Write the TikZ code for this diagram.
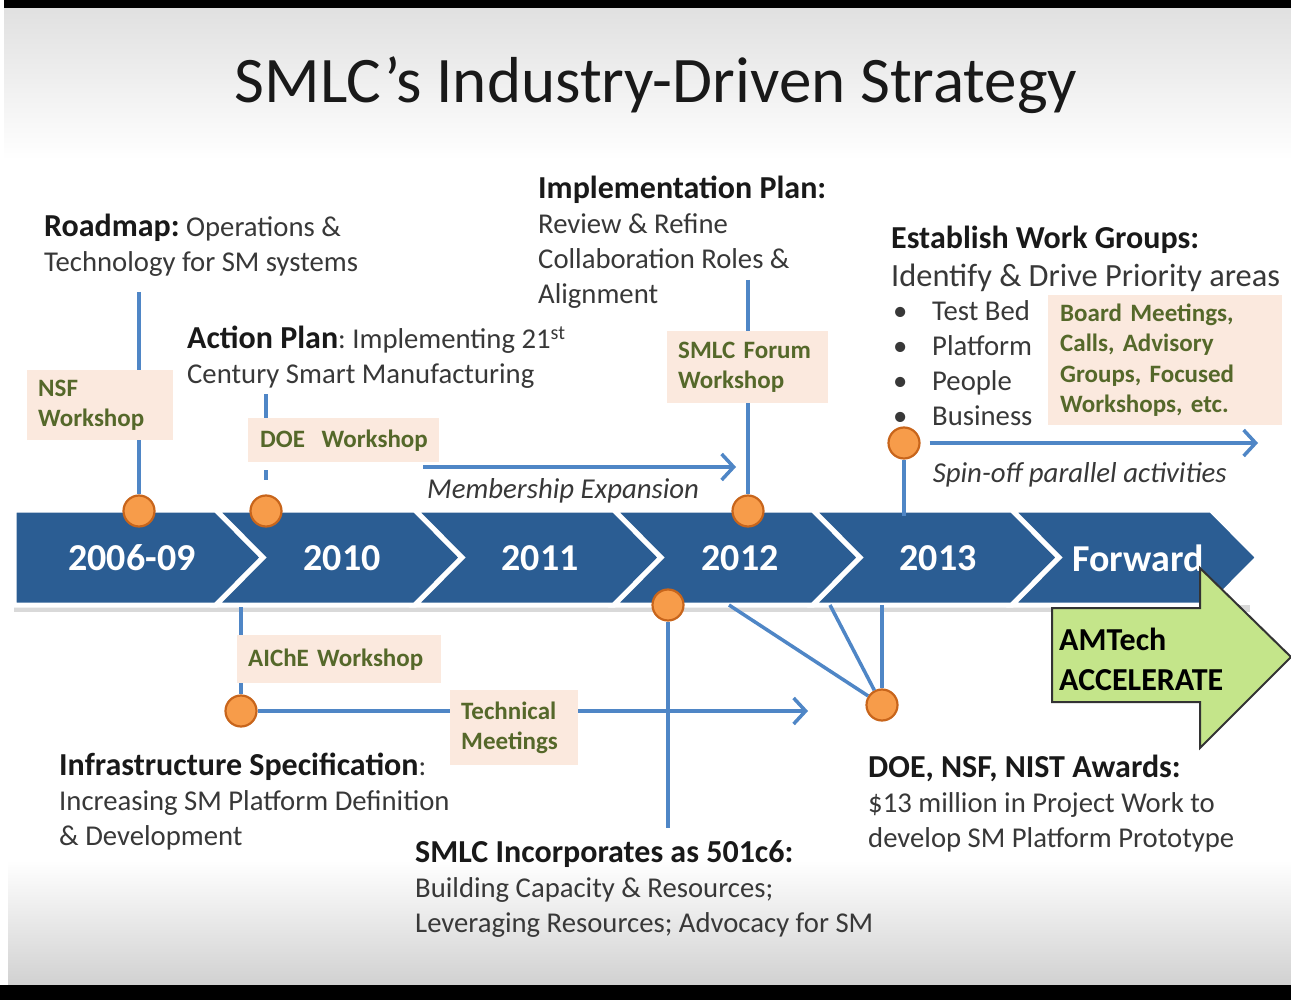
\documentclass[tikz,border=0pt]{standalone}
\usepackage{fontspec}
\setmainfont{Carlito}
\usetikzlibrary{positioning,arrows.meta}

\definecolor{bandblue}{HTML}{2B5D93}
\definecolor{linkblue}{HTML}{4F86C6}
\definecolor{dotfill}{HTML}{F79C4A}
\definecolor{dotedge}{HTML}{C8651B}
\definecolor{peach}{HTML}{FBE9DE}
\definecolor{olive}{HTML}{55682A}
\definecolor{accgreen}{HTML}{C4E58A}
\definecolor{txtgray}{HTML}{383838}

\newcommand{\hdr}[1]{{\fontsize{32}{35}\selectfont\bfseries\color{black!90}#1}}
\newcommand{\bul}{\makebox[39pt][l]{\textbullet}}

\tikzset{
  link/.style={draw=linkblue, line width=3.5pt},
  arrowlink/.style={link, -{Straight Barb[length=12pt,width=26pt]}},
  milestone/.style={circle, fill=dotfill, draw=dotedge, line width=2.2pt, minimum size=31pt, inner sep=0pt},
  meetbox/.style={fill=peach, text=olive, font=\fontsize{25}{30.5}\selectfont\bfseries, inner xsep=11pt, inner ysep=4pt, align=left, anchor=north west},
  body/.style={font=\fontsize{28.7}{35}\selectfont, text=txtgray, align=left, anchor=north west, inner sep=0pt},
  note/.style={font=\fontsize{28.8}{32}\selectfont\itshape, text=txtgray, inner sep=0pt},
  yearlab/.style={font=\fontsize{38}{42}\selectfont\bfseries, text=white},
  bandseg/.style={fill=bandblue, draw=white, line width=5pt, line join=miter},
}

\begin{document}
\frenchspacing
\begin{tikzpicture}[x=1pt,y=-1pt]
  \useasboundingbox (0,0) rectangle (1291,1000);

  % slide background
  \fill[white] (0,0) rectangle (1291,1000);
  \shade[top color=black!12, bottom color=white] (4,8) rectangle (1291,160);
  \shade[top color=white, bottom color=black!18] (8,860) rectangle (1291,985);
  \fill[black] (4,0) rectangle (1291,8);
  \fill[black] (0,985) rectangle (1291,1000);

  \node[font=\fontsize{65}{72}\selectfont, text=black!90, anchor=base] (title) at (656,103) {SMLC’s Industry-Driven Strategy};

  % timeline band
  \fill[black!15] (14,605) rectangle (1250,612);
  \foreach \xa/\xb/\nd in {14/216/0, 216/415/47, 415/614/47, 614/813/47, 813/1012/47, 1012/1211/47}
    \draw[bandseg] (\xa,510) -- (\xb,510) -- ({\xb+47},557.5) -- (\xb,605) -- (\xa,605) -- ({\xa+\nd},557.5) -- cycle;
  \foreach \n/\x/\lab in {y1/132/2006-09, y2/342/2010, y3/540/2011, y4/740/2012, y5/938/2013, y6/1138/Forward}
    \node[yearlab] (\n) at (\x,558) {\lab};

  % AMTech arrow
  \draw[fill=accgreen, draw=black!80, line width=2pt, line join=miter]
    (1052,608) -- (1200,608) -- (1200,568) -- (1291,657) -- (1200,748) -- (1200,702) -- (1052,702) -- cycle;
  \node[font=\fontsize{32}{40}\selectfont\bfseries, align=left, anchor=west, inner sep=0pt] (amtech) at (1059,659) {AMTech\\ACCELERATE};

  % milestones
  \node[milestone] (m0609) at (139,511) {};
  \node[milestone] (m2010) at (266,511) {};
  \node[milestone] (m2012) at (748,511) {};
  \node[milestone] (m2011) at (668,605) {};
  \node[milestone] (m2013) at (904,443) {};
  \node[milestone] (minfra) at (241,711) {};
  \node[milestone] (maward) at (882,705) {};

  % meeting boxes
  \node[meetbox, text width=124pt, minimum height=70pt] (nsf) at (27,370) {NSF\\Workshop};
  \node[meetbox, text width=167pt, minimum height=44pt, inner xsep=12pt] (doe) at (248,418) {\mbox{DOE\ \ Workshop}};
  \node[meetbox, text width=139pt, minimum height=72pt] (forum) at (667,331) {SMLC Forum\\Workshop};
  \node[meetbox, text width=210pt, minimum height=130pt, inner xsep=12pt] (board) at (1048,295) {Board Meetings,\\Calls, Advisory\\Groups, Focused\\Workshops, etc.};
  \node[meetbox, text width=182pt, minimum height=48pt] (aiche) at (237,635) {AIChE Workshop};
  \node[meetbox, text width=106pt, minimum height=75pt] (techmeet) at (450,690) {Technical\\Meetings};

  % text blocks
  \node[body] (roadmap) at (44,214) {\hdr{Roadmap:} Operations \&\\Technology for SM systems};
  \node[body] (actionplan) at (187,326) {\hdr{Action Plan}: Implementing 21\textsuperscript{st}\\Century Smart Manufacturing};
  \node[body] (implplan) at (538,176) {\hdr{Implementation Plan:}\\Review \& Refine\\Collaboration Roles \&\\Alignment};
  \node[body] (workgroups) at (891,226) {\hdr{Establish Work Groups:}};
  \node[body, font=\fontsize{32.4}{35}\selectfont, below=10pt of workgroups.south west, anchor=north west] (identify) {Identify \& Drive Priority areas};
  \node[body] (bullets) at (893,300) {\bul Test Bed\\\bul Platform\\\bul People\\\bul Business};
  \node[body] (infraspec) at (59,753) {\hdr{Infrastructure Specification}:\\Increasing SM Platform Definition\\\& Development};
  \node[body] (incorp) at (415,840) {\hdr{SMLC Incorporates as 501c6:}\\Building Capacity \& Resources;\\Leveraging Resources; Advocacy for SM};
  \node[body] (awards) at (868,755) {\hdr{DOE, NSF, NIST Awards:}\\\$13 million in Project Work to\\develop SM Platform Prototype};

  % free ends
  \coordinate (rmfoot) at (139,292);
  \coordinate (apfoot) at (266,394);
  \coordinate (fotop) at (748,280);
  \coordinate (memA) at (423,467);
  \coordinate (memB) at (736,467);
  \coordinate (spinB) at (1258,443);
  \coordinate (spdrop) at (904,516);
  \coordinate (aitop) at (241,607);
  \coordinate (tmB) at (808,711);
  \coordinate (incfoot) at (668,828);
  \coordinate (aw1) at (729,605);
  \coordinate (aw2) at (830,605);
  \coordinate (aw3) at (882,605);

  % connectors
  \draw[link] (rmfoot) -- (nsf.north -| rmfoot);
  \draw[link] (nsf.south -| rmfoot) -- (m0609);
  \draw[link] (apfoot) -- (doe.north -| apfoot);
  \draw[link, dash pattern=on 0pt off 8pt on 10pt off 40pt] (doe.south -| apfoot) -- (m2010);
  \draw[link] (fotop) -- (forum.north -| fotop);
  \draw[link] (forum.south -| fotop) -- (m2012);
  \draw[arrowlink] (memA) -- (memB);
  \node[note, below right=11pt and 4pt of memA] (memtext) {Membership Expansion};
  \draw[arrowlink, shorten <=9pt] (m2013) -- (spinB);
  \draw[link] (m2013) -- (spdrop);
  \node[note, below right=19pt and 12pt of m2013.east] (spintext) {Spin-off parallel activities};
  \draw[link] (aitop) -- (aiche.north -| aitop);
  \draw[link] (aiche.south -| aitop) -- (minfra);
  \draw[link] (minfra) -- (techmeet.west |- minfra);
  \draw[arrowlink] (techmeet.east |- minfra) -- (tmB);
  \draw[link] (m2011) -- (incfoot);
  \foreach \c in {aw1,aw2,aw3}
    \draw[link] (maward) -- (\c);
\end{tikzpicture}
\end{document}
